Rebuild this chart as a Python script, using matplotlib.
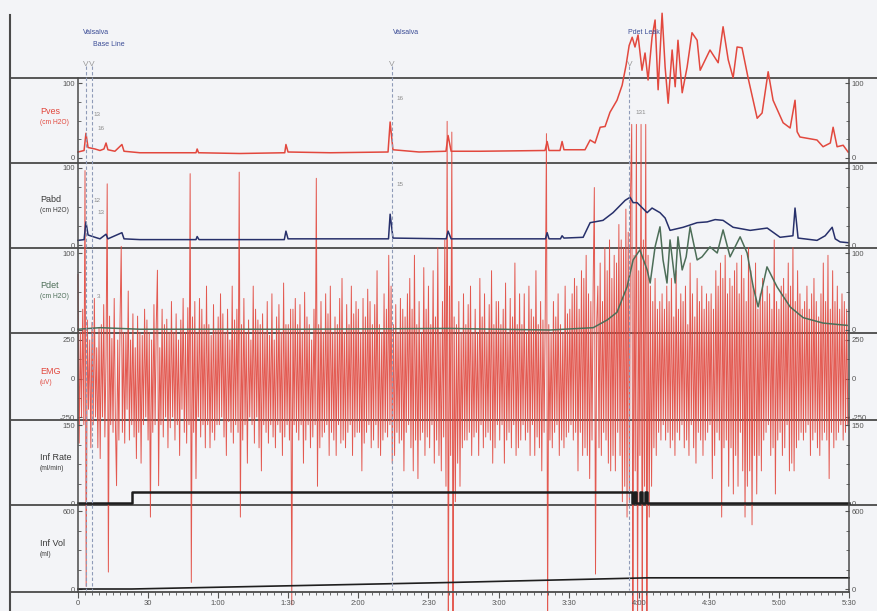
import numpy as np
import matplotlib
matplotlib.use("Agg")
from matplotlib import pyplot as plt
from matplotlib.lines import Line2D

W, H = 878, 611
X0, X1 = 78, 849          # pixel x of 0 s and 330 s
T_MAX = 330

# ---- channel data (time in s) ----
pves_t = [0, 2.6, 3.4, 4.3, 7.3, 9.4, 11.1, 12.0, 12.8, 15.8, 18.8, 19.7, 26.5, 50.5, 51, 51.6,
          69.3, 88.5, 89, 89.9, 108, 132.7, 133.6, 134.8, 146, 157.5, 158.4, 159.7, 172, 199.9,
          200.8, 201.6, 206.3, 207.2, 208, 217, 219.2, 221.3, 223.5, 225.6, 227.7, 230.7, 232.9,
          234.6, 235.9, 237.2, 238.4, 239.7, 241.4, 242.7, 244.0, 245.7, 247.0, 248.3, 250.0,
          251.3, 252.6, 254.3, 255.6, 256.8, 258.6, 260.7, 262.8, 265, 266.3, 270.5, 274, 276.1,
          278.3, 280.4, 282.1, 284.2, 286.8, 290.7, 292.8, 295.4, 297.5, 301.8, 304.8, 306.9,
          307.8, 309, 316.3, 318.9, 322, 323.2, 324.9, 327.5, 329.6]
pves_v = [8, 10, 33, 14, 12, 10, 12, 20, 11, 9, 18, 9, 7, 7, 12, 7,
          6, 7, 18, 8, 7, 8, 48, 11, 8, 9, 30, 9, 9, 10,
          22, 10, 10, 22, 11, 11, 24, 20, 41, 42, 61, 77, 97,
          124, 150, 161, 148, 164, 117, 140, 104, 161, 184, 91, 193,
          121, 73, 144, 95, 157, 87, 121, 167, 157, 117, 144, 127, 175,
          131, 107, 148, 147, 107, 53, 60, 115, 77, 47, 40, 77,
          35, 28, 24, 15, 20, 41, 15, 17, 8]

pabd_t = [0, 2.6, 3.4, 4.3, 7.3, 9.4, 12, 12.8, 18.8, 19.7, 26.5, 50.5, 51, 51.8, 88.3, 89,
          89.9, 132.9, 133.6, 134.8, 157.6, 158.4, 159.7, 200.1, 200.8, 201.6, 206.5, 207.2,
          208, 216.2, 219.2, 224.7, 229, 234.2, 236.3, 237.6, 239.3, 243.6, 245.7, 249.1, 251.3,
          253.4, 259, 265, 269.3, 272.7, 276.1, 280.4, 287.7, 295, 300.5, 306, 306.9, 308.2,
          316.3, 319.8, 322.8, 324.1, 326.2, 329.6]
pabd_v = [6, 7, 30, 13, 10, 8, 14, 8, 16, 8, 7, 7, 11, 7, 7, 18,
          8, 8, 40, 9, 8, 18, 8, 8, 16, 8, 8, 12,
          9, 10, 29, 32, 42, 58, 62, 55, 55, 42, 48, 42, 35,
          19, 23, 29, 30, 33, 32, 23, 19, 22, 10, 12, 48, 9,
          6, 12, 23, 8, 4, 3]

pdet_t = [0, 9.4, 26.5, 95, 159, 202, 220.5, 226.5, 230.7, 235, 237.6, 240.5, 243.6, 244.9,
          247, 249.1, 250.4, 252.1, 253.4, 255.6, 256.8, 258.6, 260.3, 262, 265, 267.1, 270.5,
          273.6, 276.1, 279.1, 283.4, 286.4, 289, 291.1, 294.9, 299.2, 304.8, 310.4, 318.9, 329.2]
pdet_v = [1, 3, 1, 1, 2, 0, 3, 13, 23, 56, 91, 104, 78, 61,
          108, 134, 91, 61, 117, 61, 121, 78, 95, 134, 91, 95, 108,
          100, 130, 95, 121, 100, 56, 30, 82, 56, 30, 16, 9, 6]

# EMG, one reading every half second (uV), ten seconds per row
emg_v = [
    676, -420, 300, -250, 450, -300, 1350, -1350, 380, -200, 250, -450, 365, -300, 520, -250, 200, -450, 330, -520,
    350, -250, 480, -380, 150, 1264, -1257, 405, -300, 260, -350, 520, -280, -696, 250, -400, 380, 858, -350, 300,
    -420, 300, -200, 568, -400, 250, -300, 420, -380, 200, -520, 405, -350, 300, -550, 280, -300, 450, -250, 380,
    -400, 300, -900, 250, -350, 480, -300, 350, 703, -696, 200, -300, 450, -380, 350, -250, 385, -450, 300, -320,
    500, -250, 300, -400, 420, -300, 250, -500, 380, -200, 520, -350, 300, -420, 460, -300, 1330, -1324, 400, -350,
    500, -650, 300, -250, 520, -380, 450, -300, 350, -450, 600, -300, 350, -450, 280, -350, 480, -400, 320, -300,
    400, -300, 550, -250, 420, -380, 300, -500, 450, -280, 250, -350, 600, -420, 380, -300, 450, -350, 1340, -900,
    350, -400, 520, -300, 300, -550, 380, -250, 250, -300, 600, -420, 450, -250, 380, -450, 350, -600, 420, -300,
    300, -350, 500, -420, 280, -300, 550, -380, 250, -450, 400, -300, 480, -350, 300, -500, 620, -380, 350, -300,
    350, -400, 450, -1470, 450, -300, 520, -350, 350, -400, 480, -300, 300, -550, 560, -400, 400, -300, 350, -450,
    250, -380, 450, -300, 1300, -700, 350, -450, 500, -380, 300, -350, 550, -300, 420, -500, 600, -350, 300, -400,
    400, -500, 350, -300, 520, -420, 650, -400, 300, -450, 480, -350, 350, -300, 600, -500, 420, -380, 500, -350,
    450, -350, 300, -600, 520, -420, 400, -350, 580, -300, 500, -450, 350, -400, 480, -300, 700, -450, 350, -500,
    300, -400, 550, -350, 450, -380, 800, -300, 600, -550, 350, -500, 480, -350, 300, -420, 520, -400, 450, -600,
    400, -350, 550, -300, 650, -450, 450, -600, 800, -400, 350, -650, 500, -400, 300, -350, 720, -500, 450, -380,
    600, -450, 350, -300, 700, -550, 400, -400, 850, -500, 300, -600, 500, -380, 900, -700, 1670, -1620, 600, -500,
    1600, -1600, 400, -800, 350, -550, 500, -700, 300, -450, 550, -400, 350, -400, 480, -350, 600, -500, 300, -380,
    450, -350, 300, -500, 650, -300, 400, -450, 550, -380, 300, -350, 480, -400, 700, -550, 350, -450, 500, -300,
    500, -400, 350, -300, 450, -550, 620, -400, 300, -350, 520, -450, 400, -300, 750, -500, 350, -450, 550, -400,
    350, -300, 550, -400, 300, -350, 600, -500, 450, -300, 400, -500, 700, -380, 350, -450, 500, -600, 380, -350,
    450, 1590, -1600, 350, -400, 300, -450, 500, -350, 400, -300, 550, -500, 350, -400, 300, -450, 600, -380, 420,
    -350, 450, -300, 550, -400, 650, -350, 600, -600, 450, -350, 700, -500, 650, -450, 800, -500, 550, -650, 500,
    -400, 600, 1240, -1270, 350, 600, -450, 750, -500, 500, -350, 850, -400, 700, -550, 900, -600, 650, -500, 800,
    -600, 750, -350, 1000, -500, 900, -800, 850, -700, 1100, -900, 950, -800, 1200, 1650, -1620, 800, -600, 1650, -1620,
    700, -500, 1650, -1620, 900, -700, 1650, -1620, 800, -900, 600, -700, 500, -450, 650, -500, 450, -350, 500, -400,
    550, -300, 450, -400, 600, -350, 500, -450, 650, -400, 400, -500, 700, -350, 450, -400, 550, -300, 500, -450,
    600, -400, 350, -500, 750, -300, 550, -450, 400, -550, 650, -350, 500, -400, 600, -500, 450, -400, 550, -350,
    500, -300, 550, -650, 450, -500, 700, -350, 600, -400, 750, -900, 650, -450, 800, -400, 550, -700, 650, -450,
    600, -750, 700, -500, 750, -700, 550, -350, 800, -600, 650, -900, 500, -700, 850, -600, 700, -950, 600, -500,
    750, -750, 450, -500, 550, -600, 650, -400, 500, -350, 600, -300, 550, -500, 450, -450, 900, -750, 500, -400,
    450, -350, 600, -500, 650, -450, 550, -300, 750, -600, 600, -550, 850, -600, 500, -450, 700, -400, 550, -350,
    450, -400, 500, -350, 600, -300, 450, -500, 550, -400, 650, -350, 500, -450, 400, -500, 550, -400, 750, -350,
    500, -400, 800, -650, 450, -350, 700, -450, 500, -400, 600, -350, 450, -300, 550, -400, 500, -350, 450, -300,
    -250]
emg_t = np.arange(len(emg_v)) * 0.5

rate_t = [0, 23, 237, 238, 239, 240.5, 241.5, 242.5, 243.5, 330]
rate_v = [0, 22, 0, 22, 0, 22, 0, 22, 0, 0]

vol_t = [0, 23, 159, 244, 330]
vol_v = [0, 0, 50, 86, 86]

# ---- layout: band (top px, bottom px), top value @px, bottom value @px ----
bands = {
    "pves": (78, 163, 100, 83, 0, 158),
    "pabd": (163, 248, 100, 168, 0, 245),
    "pdet": (248, 333, 100, 253, 0, 330),
    "emg": (333, 420, 250, 340, -250, 417),
    "rate": (420, 505, 150, 425, 0, 503),
    "vol": (505, 592, 600, 511, 0, 589),
}

RED = "#e2483e"
NAVY = "#27306b"
GREEN = "#4d6e58"
BLACK = "#1e1e1e"
GRID = "#4a4a4a"
TICK = "#555555"

plt.rcParams["font.family"] = ["Liberation Sans", "DejaVu Sans"]
plt.rcParams["axes.unicode_minus"] = False

fig = plt.figure(figsize=(W / 100, H / 100), dpi=100)
fig.patch.set_facecolor("#f3f4f7")


def make_axes(key, zorder):
    top, bot, vt, pt, vb, pb = bands[key]
    ax = fig.add_axes([X0 / W, 1 - bot / H, (X1 - X0) / W, (bot - top) / H])
    scale = (vt - vb) / (pb - pt)
    ax.set_ylim(vb - (bot - pb) * scale, vt + (pt - top) * scale)
    ax.set_xlim(0, T_MAX)
    ax.set_facecolor("none")
    ax.set_zorder(zorder)
    for s in ("top", "bottom"):
        ax.spines[s].set_visible(False)
    for s in ("left", "right"):
        ax.spines[s].set_color(GRID)
        ax.spines[s].set_linewidth(1.1)
    ticks = [vt, 0, vb] if vb < 0 else [vt, vb]
    ax.set_yticks(ticks)
    ax.set_yticks(np.linspace(vb, vt, 5), minor=True)
    ax.tick_params(axis="y", which="both", left=True, right=True, labelleft=True,
                   labelright=True, direction="in", colors=TICK, labelsize=5.5, pad=2)
    ax.tick_params(axis="y", which="major", length=3)
    ax.tick_params(axis="y", which="minor", length=2)
    ax.tick_params(axis="x", bottom=False, labelbottom=False)
    return ax


ax_emg = make_axes("emg", 1)
ax_emg.plot(emg_t, emg_v, color=RED, lw=0.7, alpha=0.9, clip_on=False)

ax_pves = make_axes("pves", 2)
ax_pves.plot(pves_t, pves_v, color=RED, lw=1.1, clip_on=False)

ax_pabd = make_axes("pabd", 3)
ax_pabd.plot(pabd_t, pabd_v, color=NAVY, lw=1.1, clip_on=False)

ax_pdet = make_axes("pdet", 3)
ax_pdet.plot(pdet_t, pdet_v, color=GREEN, lw=1.1, clip_on=False)

ax_rate = make_axes("rate", 3)
ax_rate.plot(rate_t, rate_v, color=BLACK, lw=1.8, drawstyle="steps-post", clip_on=False)

ax_vol = make_axes("vol", 3)
ax_vol.plot(vol_t, vol_v, color=BLACK, lw=1.2, clip_on=False)
ax_vol.spines["bottom"].set_visible(True)
ax_vol.spines["bottom"].set_color(GRID)
ax_vol.spines["bottom"].set_linewidth(1.3)
major = list(range(0, T_MAX + 1, 30))
ax_vol.set_xticks(major)
ax_vol.set_xticks(range(0, T_MAX + 1, 3), minor=True)
ax_vol.set_xticklabels([str(t) if t < 60 else "%d:%02d" % (t // 60, t % 60) for t in major])
ax_vol.tick_params(axis="x", which="both", bottom=True, labelbottom=True, direction="out",
                   colors=TICK, labelsize=5.5, pad=2)
ax_vol.tick_params(axis="x", which="major", length=4)
ax_vol.tick_params(axis="x", which="minor", length=2)

# band separator lines across the whole sheet
for y in (78, 163, 248, 333, 420, 505):
    fig.add_artist(Line2D([10 / W, 1], [1 - y / H, 1 - y / H], color=GRID, lw=1.3, zorder=0.5))
fig.add_artist(Line2D([10 / W, X0 / W], [1 - 592 / H, 1 - 592 / H], color=GRID, lw=1.3, zorder=0.5))
fig.add_artist(Line2D([10 / W, 10 / W], [1 - 15 / H, 0], color=GRID, lw=1.5, zorder=0.5))

# channel names
names = [("Pves", "(cm H2O)", 112, RED), ("Pabd", "(cm H2O)", 199, "#3a3a3a"),
         ("Pdet", "(cm H2O)", 286, GREEN), ("EMG", "(uV)", 372, RED),
         ("Inf Rate", "(ml/min)", 458, "#3a3a3a"), ("Inf Vol", "(ml)", 543, "#3a3a3a")]
for name, unit, y, col in names:
    fig.text(40 / W, 1 - y / H, name, color=col, fontsize=6.5, va="center", ha="left")
    fig.text(40 / W, 1 - (y + 11) / H, unit, color=col, fontsize=4.8, va="center", ha="left")

# event overlay in pixel-y coordinates
ov = fig.add_axes([X0 / W, 1 - 592 / H, (X1 - X0) / W, (592 - 15) / H])
ov.set_xlim(0, T_MAX)
ov.set_ylim(592, 15)
ov.axis("off")
ov.set_zorder(4)

events_t = [3.3, 6.0, 134.2, 236.0]
for t in events_t:
    ov.vlines(t, 66, 590, color="#8f9bb8", lw=0.8, linestyles=(0, (3, 2)))
    ov.text(t, 64, "V", color="#9a9a9a", fontsize=6, ha="center", va="center")

ov.text(2.3, 33, "Valsalva", color="#3b4c96", fontsize=5, ha="left", va="center")
ov.text(6.4, 45, "Base Line", color="#3b4c96", fontsize=5, ha="left", va="center")
ov.text(134.8, 33, "Valsalva", color="#3b4c96", fontsize=5, ha="left", va="center")
ov.text(235.4, 33, "Pdet Leak", color="#3b4c96", fontsize=5, ha="left", va="center")

small = [(6.5, 115, "13"), (8.5, 128, "16"), (6.5, 200, "12"), (8.5, 213, "13"),
         (8.0, 297, "3"), (136.5, 98, "16"), (136.5, 185, "15"), (238.5, 113, "131")]
for t, y, s in small:
    ov.text(t, y, s, color="#8a8a8a", fontsize=4.5, ha="left", va="center")

fig.savefig("out.png", dpi=100, facecolor=fig.get_facecolor())
